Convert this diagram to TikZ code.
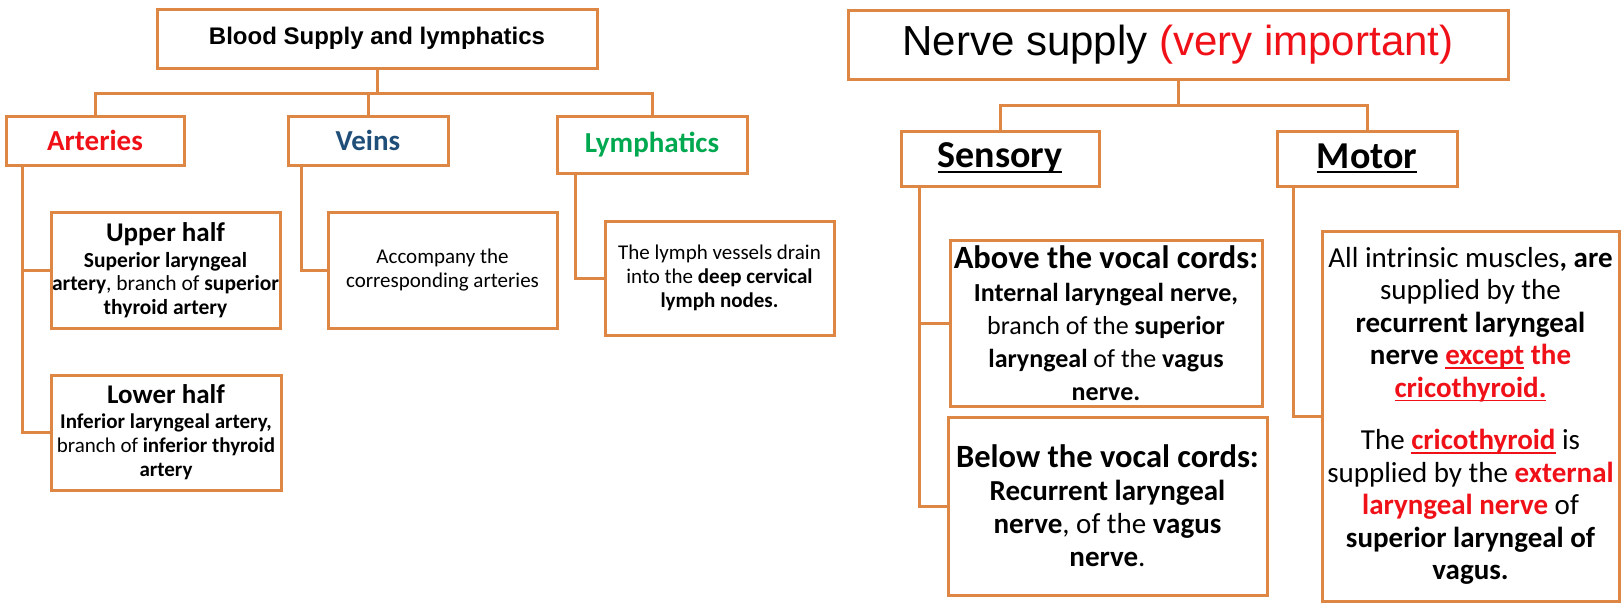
\documentclass[tikz,border=0pt]{standalone}
\usepackage{fontspec}
\setmainfont{Carlito}
\newfontfamily\arialfont{Liberation Sans}
\usetikzlibrary{positioning}
\definecolor{boxorange}{RGB}{222,134,68}
\definecolor{artred}{RGB}{240,16,24}
\definecolor{veinblue}{RGB}{31,78,121}
\definecolor{lymphgreen}{RGB}{0,168,80}
\newsavebox\lineunderbox
\newcommand{\lineunder}[1]{\sbox\lineunderbox{#1}\rlap{\rule[-0.14em]{\wd\lineunderbox}{0.065em}}\usebox\lineunderbox}

\begin{document}
\begin{tikzpicture}[x=1pt, y=-1pt,
    box/.style={draw=boxorange, line width=3pt, inner sep=0pt, align=center, fill=white},
    link/.style={draw=boxorange, line width=3pt}]
  \useasboundingbox (0,0) rectangle (1621,603);

  % Blood supply and lymphatics
  \node[box, minimum width=440pt, minimum height=59pt, font=\arialfont\bfseries\fontsize{24}{28}\selectfont] (blood) at (377,38.5) {Blood Supply and lymphatics};
  \node[box, minimum width=178pt, minimum height=49pt, font=\bfseries\fontsize{29}{32}\selectfont, text=artred] (arteries) at (95,140.5) {Arteries};
  \node[box, minimum width=160pt, minimum height=49pt, font=\bfseries\fontsize{29}{32}\selectfont, text=veinblue] (veins) at (368,140.5) {Veins};
  \node[box, minimum width=190pt, minimum height=57pt, font=\bfseries\fontsize{29}{32}\selectfont, text=lymphgreen] (lymph) at (652,144.5) {Lymphatics};

  \node[box, minimum width=229pt, minimum height=116pt, font=\fontsize{21.5}{23.5}\selectfont] (upper) at (165.5,270)
    {{\fontsize{27}{30}\selectfont\bfseries Upper half}\\[2pt]
     \textbf{Superior laryngeal}\\
     \textbf{artery}, branch of \textbf{superior}\\
     \textbf{thyroid artery}};
  \node[box, minimum width=230pt, minimum height=115pt, font=\fontsize{21}{24}\selectfont] (lower) at (166,432.5)
    {{\fontsize{27}{30}\selectfont\bfseries Lower half}\\[1pt]
     \textbf{Inferior laryngeal artery,}\\
     branch of \textbf{inferior thyroid}\\
     \textbf{artery}};
  \node[box, minimum width=229pt, minimum height=116pt, font=\fontsize{21}{24}\selectfont] (accomp) at (442.5,270)
    {Accompany the\\ corresponding arteries};
  \node[box, minimum width=229pt, minimum height=114pt, font=\fontsize{21}{24}\selectfont] (drain) at (719.5,278)
    {The lymph vessels drain\\ into the \textbf{deep cervical}\\ \textbf{lymph nodes.}};

  \coordinate (bloodhub) at (377,93);
  \draw[link] (blood.south) -- (bloodhub);
  \draw[link] (arteries.north) |- (bloodhub) -| (lymph.north);
  \draw[link] (veins.north) -- (veins.north |- bloodhub);

  \coordinate (arttrunk) at ([xshift=18pt]arteries.south west);
  \draw[link] (arttrunk) |- (upper.west);
  \draw[link] (arttrunk) |- (lower.west);
  \coordinate (veintrunk) at ([xshift=15pt]veins.south west);
  \draw[link] (veintrunk) |- (accomp.west);
  \coordinate (lymphtrunk) at ([xshift=20pt]lymph.south west);
  \draw[link] (lymphtrunk) |- (drain.west);

  % Nerve supply
  \node[box, minimum width=660pt, minimum height=69pt, font=\arialfont\fontsize{42}{48}\selectfont] (nerve) at (1178,44.5)
    {Nerve supply \textcolor{artred}{(very important)}};
  \node[box, minimum width=198pt, minimum height=55pt, font=\bfseries\fontsize{38}{42}\selectfont] (sensory) at (1000,158.5) {\lineunder{Sensory}};
  \node[box, minimum width=180pt, minimum height=55pt, font=\bfseries\fontsize{38}{42}\selectfont] (motor) at (1367,158.5) {\lineunder{Motor}};

  \node[box, minimum width=312pt, minimum height=166pt, font=\fontsize{26}{33}\selectfont] (above) at (1106,323)
    {{\fontsize{32.5}{33}\selectfont\bfseries Above the vocal cords:}\\
     \textbf{Internal laryngeal nerve,}\\
     branch of the \textbf{superior}\\
     \textbf{laryngeal} of the \textbf{vagus}\\
     \textbf{nerve.}};
  \node[box, minimum width=319pt, minimum height=178pt, font=\fontsize{29}{33}\selectfont] (below) at (1107.5,506)
    {{\fontsize{32.5}{33}\selectfont\bfseries Below the vocal cords:}\\
     \textbf{Recurrent laryngeal}\\
     \textbf{nerve}, of the \textbf{vagus}\\
     \textbf{nerve}.};
  \node[box, minimum width=297pt, minimum height=370pt, font=\fontsize{29}{32.5}\selectfont] (muscles) at (1470.5,416)
    {All intrinsic muscles\textbf{, are}\\
     supplied by the\\
     \textbf{recurrent laryngeal}\\
     \textbf{nerve \textcolor{artred}{\lineunder{except} the}}\\
     \textcolor{artred}{\bfseries\lineunder{cricothyroid.}}\\[20pt]
     The \textcolor{artred}{\bfseries\lineunder{cricothyroid}} is\\
     supplied by the \textcolor{artred}{\bfseries external}\\
     \textcolor{artred}{\bfseries laryngeal nerve} of\\
     \textbf{superior laryngeal of}\\
     \textbf{vagus.}};

  \coordinate (nervehub) at (1178,105);
  \draw[link] (nerve.south) -- (nervehub);
  \draw[link] (sensory.north) |- (nervehub) -| (motor.north);

  \coordinate (senstrunk) at ([xshift=20pt]sensory.south west);
  \draw[link] (senstrunk) |- (above.west);
  \draw[link] (senstrunk) |- (below.west);
  \coordinate (motortrunk) at ([xshift=18pt]motor.south west);
  \draw[link] (motortrunk) |- (muscles.west);
\end{tikzpicture}
\end{document}
